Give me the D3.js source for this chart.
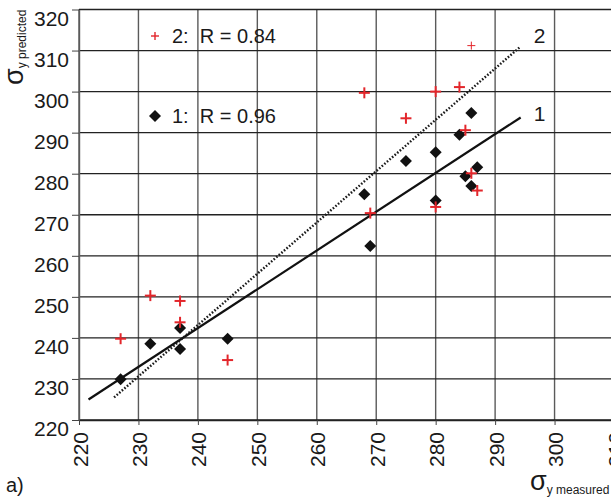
<!DOCTYPE html>
<html>
<head>
<meta charset="utf-8">
<script src="https://cdn.jsdelivr.net/npm/d3@7"></script>
<style>
  body { margin: 0; background: #fff; }
  svg { display: block; font-family: "Liberation Sans", Arial, sans-serif; }
  text { white-space: pre; }
</style>
</head>
<body>
<div id="chart"></div>
<script>
// Data
const xTicks = [220, 230, 240, 250, 260, 270, 280, 290, 300, 310];
const yTicks = [220, 230, 240, 250, 260, 270, 280, 290, 300, 310, 320];

// series 1: black diamonds [measured, predicted]
const series1 = [
    [227, 229.9], [232, 238.6], [237, 242.4], [237, 237.3], [245, 239.8],
    [268, 275.0], [269, 262.4], [275, 283.1], [280, 285.2], [280, 273.5],
    [284, 289.5], [286, 294.8], [285, 279.4], [286, 277.0], [287, 281.6]
];
// series 2: red crosses
const series2 = [
    [227, 239.8], [232, 250.3], [237, 249.0], [237, 243.8], [245, 234.6],
    [268, 299.7], [269, 270.4], [275, 293.5], [280, 300.0], [280, 271.9],
    [284, 301.1], [285, 290.6], [286, 280.1], [287, 275.9]
];
// thin cross drawn above the others
const series2Faint = [[286, 311.2]];

// fitted lines (end points)
const line1 = [[221.6, 225.0], [294.3, 293.7]];
const line2 = [[225.9, 225.5], [294.3, 311.0]];

const legendItems = [
    { label: "2:  R = 0.84", kind: "cross" },
    { label: "1:  R = 0.96", kind: "diamond" }
];

const width = 611, height = 497;
const red = "#e3262b";

const svg = d3.select("#chart").append("svg")
    .attr("width", width)
    .attr("height", height);

const x = d3.scaleLinear().domain([220, 310]).range([79, 614]);
const y = d3.scaleLinear().domain([220, 320]).range([420, 9.5]);

// grid
svg.append("g")
    .selectAll("line")
    .data(xTicks)
    .enter().append("line")
    .attr("x1", d => x(d)).attr("x2", d => x(d))
    .attr("y1", y(320)).attr("y2", y(220))
    .attr("stroke", "#5a5a5a")
    .attr("stroke-width", 1.4);

svg.append("g")
    .selectAll("line")
    .data(yTicks)
    .enter().append("line")
    .attr("x1", x(220)).attr("x2", width)
    .attr("y1", d => y(d)).attr("y2", d => y(d))
    .attr("stroke", "#222")
    .attr("stroke-width", 1.3);

// axes
const yAxis = svg.append("g")
    .attr("transform", `translate(${x(220)},0)`)
    .call(d3.axisLeft(y).tickValues(yTicks).tickSize(7).tickSizeOuter(0));
yAxis.select(".domain").attr("stroke", "#5a5a5a").attr("stroke-width", 1.4);
yAxis.selectAll("line").attr("stroke", "#444");
yAxis.selectAll("text")
    .attr("x", -10)
    .attr("dy", "15.5px")
    .attr("font-size", "21px")
    .attr("fill", "#1a1a1a");

const xAxis = svg.append("g")
    .attr("transform", `translate(0,${y(220)})`)
    .call(d3.axisBottom(x).tickValues(xTicks).tickSize(5).tickSizeOuter(0));
xAxis.select(".domain").attr("stroke", "#222").attr("stroke-width", 1.3);
xAxis.selectAll("line").attr("stroke", "#444");
xAxis.selectAll("text")
    .attr("transform", "rotate(-90)")
    .attr("x", -12)
    .attr("y", 8)
    .attr("dy", 0)
    .attr("text-anchor", "end")
    .attr("font-size", "21px")
    .attr("fill", "#1a1a1a");

// fitted lines
const lineGen = d3.line().x(d => x(d[0])).y(d => y(d[1]));

svg.append("path")
    .datum(line1)
    .attr("d", lineGen)
    .attr("fill", "none")
    .attr("stroke", "#111")
    .attr("stroke-width", 2.2);

svg.append("path")
    .datum(line2)
    .attr("d", lineGen)
    .attr("fill", "none")
    .attr("stroke", "#1a1a1a")
    .attr("stroke-width", 2.4)
    .attr("stroke-dasharray", "1.6,1.8");

svg.append("text")
    .attr("x", x(line2[1][0]) + 13).attr("y", y(line2[1][1]) - 3)
    .attr("font-size", "21px").attr("fill", "#1a1a1a")
    .text("2");
svg.append("text")
    .attr("x", x(line1[1][0]) + 13).attr("y", y(line1[1][1]) + 4)
    .attr("font-size", "21px").attr("fill", "#1a1a1a")
    .text("1");

// markers
const diamond = d3.symbol(d3.symbolSquare, 72);
function cross(g, size, sw) {
    g.append("line").attr("x1", -size).attr("x2", size).attr("y1", 0).attr("y2", 0);
    g.append("line").attr("x1", 0).attr("x2", 0).attr("y1", -size).attr("y2", size);
    g.attr("stroke", red).attr("stroke-width", sw);
}

svg.append("g")
    .selectAll("path")
    .data(series1)
    .enter().append("path")
    .attr("d", diamond)
    .attr("transform", d => `translate(${x(d[0])},${y(d[1])}) rotate(45)`)
    .attr("fill", "#111");

svg.append("g")
    .selectAll("g")
    .data(series2)
    .enter().append("g")
    .attr("transform", d => `translate(${x(d[0])},${y(d[1])})`)
    .each(function() { cross(d3.select(this), 5.5, 2); });

svg.append("g")
    .selectAll("g")
    .data(series2Faint)
    .enter().append("g")
    .attr("transform", d => `translate(${x(d[0])},${y(d[1])})`)
    .each(function() { cross(d3.select(this), 4, 1); });

// legend
const legend = svg.selectAll(".legend-item")
    .data(legendItems)
    .enter().append("g")
    .attr("class", "legend-item")
    .attr("transform", (d, i) => `translate(155,${i === 0 ? 36 : 116})`);

legend.each(function(d) {
    const g = d3.select(this);
    if (d.kind === "cross") {
        cross(g.append("g"), 4, 1.4);
    } else {
        g.append("path").attr("d", diamond).attr("transform", "rotate(45)").attr("fill", "#111");
    }
    g.append("text")
        .attr("x", 17).attr("y", 7)
        .attr("font-size", "20px").attr("fill", "#1a1a1a")
        .text(d.label);
});

// axis titles
const yTitle = svg.append("text")
    .attr("transform", "translate(23,85) rotate(-90)")
    .attr("fill", "#1a1a1a");
yTitle.append("tspan").attr("font-size", "27px").text("σ");
yTitle.append("tspan").attr("font-size", "12px").attr("dy", 3).text("y predicted");

const xTitle = svg.append("text")
    .attr("transform", "translate(530,490)")
    .attr("fill", "#1a1a1a");
xTitle.append("tspan").attr("font-size", "27px").text("σ");
xTitle.append("tspan").attr("font-size", "12px").attr("dy", 4).text("y measured");

svg.append("text")
    .attr("x", 6).attr("y", 492)
    .attr("font-size", "20px").attr("fill", "#1a1a1a")
    .text("a)");
</script>
</body>
</html>
